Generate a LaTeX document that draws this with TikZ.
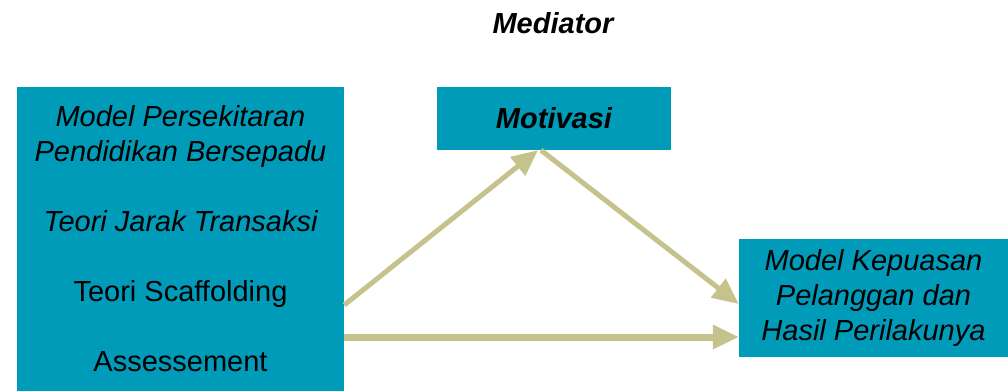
\documentclass[tikz,border=0pt]{standalone}
\usepackage{fontspec}
\setmainfont{Liberation Sans}
\usetikzlibrary{arrows.meta}
\definecolor{boxfill}{HTML}{009BB9}
\definecolor{arrowcol}{HTML}{C5C28C}
\tikzset{
  boxnode/.style={rectangle, fill=boxfill, draw=none, inner sep=0pt, align=center,
    font=\fontsize{29}{35}\selectfont},
  conn/.style={draw=arrowcol, line width=5pt, -{Triangle[length=26pt,width=23pt]}},
  connthick/.style={conn, line width=7pt}
}
\begin{document}
\begin{tikzpicture}[x=1pt,y=-1pt]
\useasboundingbox (0,0) rectangle (1008,391);
\node[font=\fontsize{29}{35}\selectfont\bfseries\itshape] (med) at (553,23) {Mediator};
\node[boxnode, minimum width=327pt, minimum height=304pt] (L) at (180.5,239)
  {\itshape Model Persekitaran\\ \itshape Pendidikan Bersepadu\\[35pt]
   \itshape Teori Jarak Transaksi\\[35pt] Teori Scaffolding\\[35pt] Assessement};
\node[boxnode, minimum width=234pt, minimum height=63pt] (M) at (554,118.5)
  {\bfseries\itshape Motivasi};
\node[boxnode, minimum width=269pt, minimum height=118pt] (R) at (873.5,298)
  {\itshape Model Kepuasan\\ \itshape Pelanggan dan\\ \itshape Hasil Perilakunya};
\draw[conn] (L.east |- 0,305) -- (M.south -| 538,0);
\draw[conn] (M.south -| 541,0) -- (R.west |- 0,304);
\draw[connthick] (L.east |- 0,337) -- (R.west |- 0,337);
\end{tikzpicture}
\end{document}
